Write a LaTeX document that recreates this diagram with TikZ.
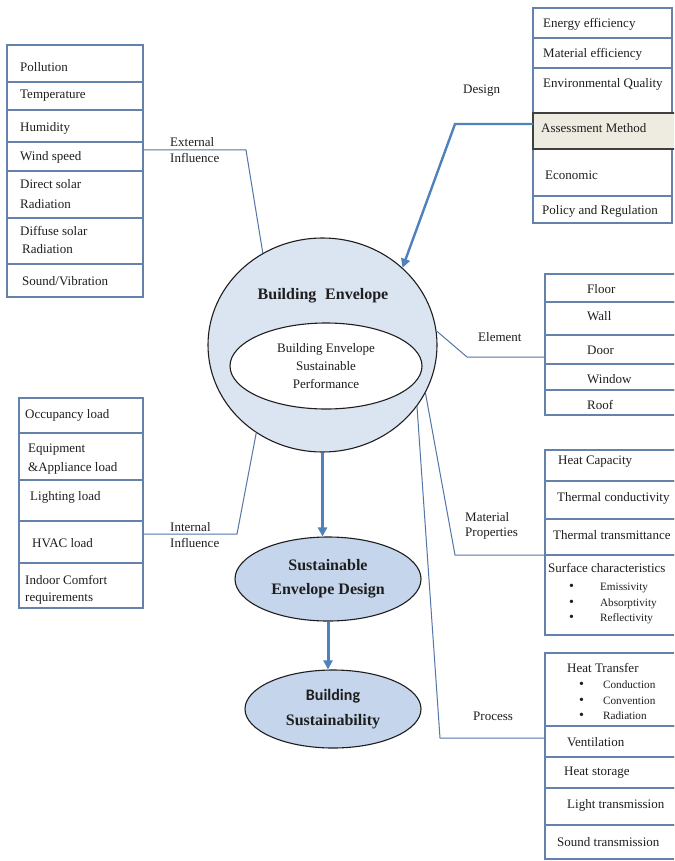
\documentclass[tikz,border=0pt]{standalone}
\usepackage{fontspec}
\setmainfont{Liberation Serif}
\newfontfamily\calibfont{Carlito}
\usetikzlibrary{shapes.geometric,arrows.meta}
\definecolor{arrowblue}{RGB}{79,129,189}
\definecolor{linkblue}{RGB}{84,118,166}
\definecolor{gridblue}{RGB}{100,130,172}
\definecolor{envfill}{RGB}{219,229,241}
\definecolor{ovalfill}{RGB}{196,213,236}
\definecolor{assessfill}{RGB}{238,236,225}
\definecolor{boxdark}{RGB}{64,64,64}
\definecolor{inkdark}{RGB}{30,30,30}
\newcommand\cellrow[6][cell]{\node[#1, minimum width=#5, minimum height=#6] (#2) at (#3,#4) {};}
\newcommand\bigdot{{\fontsize{14}{15}\selectfont\textbullet}}
\begin{document}
\begin{tikzpicture}[x=1pt,y=-1pt,
  cell/.style={draw=gridblue, line width=1.25pt, rectangle, anchor=north west, inner sep=0pt, outer sep=0pt},
  assess/.style={cell, draw=boxdark, line width=1.8pt, fill=assessfill},
  txt/.style={anchor=west, inner sep=0pt, text=inkdark, font=\fontsize{13}{15.5}\selectfont, align=left},
  small/.style={txt, font=\fontsize{11.2}{15.5}\selectfont},
  link/.style={draw=linkblue, line width=1pt},
  flow/.style={draw=arrowblue, line width=3pt, -{Triangle[length=9pt,width=9pt]}},
  oval/.style={ellipse, draw=inkdark, line width=1.1pt, inner sep=0pt, text=inkdark, align=center}]
\fill[white] (0,0) rectangle (674,861);
\useasboundingbox (0,0) rectangle (674,861);
\clip (0,0) rectangle (674,861);

% ---------- upper left table: external influence ----------
\cellrow{pol}{7}{45}{136}{37}
\cellrow{tem}{7}{82}{136}{28}
\cellrow{hum}{7}{110}{136}{32}
\cellrow{win}{7}{142}{136}{29}
\cellrow{dir}{7}{171}{136}{47}
\cellrow{dif}{7}{218}{136}{46}
\cellrow{snd}{7}{264}{136}{33}
\node[txt] (tpol) at (20,67) {Pollution};
\node[txt] (ttem) at (20,96) {Temperature};
\node[txt] (thum) at (20,128) {Humidity};
\node[txt] (twin) at (20,157) {Wind speed};
\node[txt] (tdir) at (20,194) {Direct solar\\[5pt]Radiation};
\node[txt] (tdif) at (20,240) {Diffuse solar\\[2pt]\hspace*{2pt}Radiation};
\node[txt] (tsnd) at (22,281) {Sound/Vibration};

% ---------- lower left table: internal influence ----------
\cellrow{occ}{19}{398}{124}{35}
\cellrow{equ}{19}{433}{124}{47}
\cellrow{lig}{19}{480}{124}{41}
\cellrow{hva}{19}{521}{124}{42}
\cellrow{ind}{19}{563}{124}{45}
\node[txt] (tocc) at (25,415) {Occupancy load};
\node[txt] (tequ) at (28,459) {Equipment\\[4pt]\&Appliance load};
\node[txt] (tlig) at (30,497) {Lighting load};
\node[txt] (thva) at (32,543) {HVAC load};
\node[txt] (tind) at (25,590) {Indoor Comfort\\[1pt]requirements};

% ---------- upper right table: design ----------
\cellrow{ene}{533}{8}{139}{30}
\cellrow{mat}{533}{38}{139}{30}
\cellrow{env}{533}{68}{139}{45}
\cellrow{eco}{533}{149}{139}{47}
\cellrow{pr}{533}{196}{139}{27}
\cellrow[assess]{am}{533}{113}{145}{36}
\node[txt] (tene) at (543,24) {Energy efficiency};
\node[txt] (tmat) at (543,54) {Material efficiency};
\node[txt] (tenv) at (543,84) {Environmental Quality};
\node[txt] (tam) at (541,128) {Assessment Method};
\node[txt] (teco) at (545,175) {Economic};
\node[txt] (tpr) at (542,211) {Policy and Regulation};

% ---------- element table ----------
\cellrow{flo}{545}{274}{131}{28}
\cellrow{wal}{545}{302}{131}{33}
\cellrow{doo}{545}{335}{131}{29}
\cellrow{wdw}{545}{364}{131}{26}
\cellrow{roo}{545}{390}{131}{25}
\node[txt] (tflo) at (587,289) {Floor};
\node[txt] (twal) at (587,316) {Wall};
\node[txt] (tdoo) at (587,350) {Door};
\node[txt] (twdw) at (587,379) {Window};
\node[txt] (troo) at (587,405) {Roof};

% ---------- material properties table ----------
\cellrow{hc}{545}{450}{131}{31}
\cellrow{tc}{545}{481}{131}{38}
\cellrow{tt}{545}{519}{131}{36}
\cellrow{sc}{545}{555}{131}{80}
\node[txt] (thc) at (558,462) {Heat Capacity};
\node[txt] (ttc) at (557,498) {Thermal conductivity};
\node[txt] (ttt) at (553,535) {Thermal transmittance};
\node[txt] (tsc) at (548,568) {Surface characteristics};
\node[small] (tscl) at (569,603) {\begin{tabular}{@{}l@{\hspace{26pt}}l@{}}\bigdot & Emissivity\\ \bigdot & Absorptivity\\ \bigdot & Reflectivity\end{tabular}};

% ---------- process table ----------
\cellrow{ht}{545}{653}{131}{73}
\cellrow{ven}{545}{726}{131}{31}
\cellrow{hst}{545}{757}{131}{31}
\cellrow{lt}{545}{788}{131}{37}
\cellrow{st}{545}{825}{131}{34}
\node[txt] (tht) at (567,668) {Heat Transfer};
\node[small] (thtl) at (579,701) {\begin{tabular}{@{}l@{\hspace{19pt}}l@{}}\bigdot & Conduction\\ \bigdot & Convention\\ \bigdot & Radiation\end{tabular}};
\node[txt] (tven) at (567,742) {Ventilation};
\node[txt] (thst) at (564,773) {Heat storage};
\node[txt] (tlt) at (567,805) {Light transmission};
\node[txt] (tst) at (557,842) {Sound transmission};

% ---------- central ellipses ----------
\node[oval, fill=envfill, minimum width=229, minimum height=214] (be) at (322.5,345) {};
\node[txt, anchor=center, font=\fontsize{16}{19}\selectfont\bfseries] (betitle) at (323,296) {Building\hspace{0.3em} Envelope};
\node[oval, fill=white, minimum width=192, minimum height=86, font=\fontsize{13}{18}\selectfont] (core) at (326,366) {Building Envelope\\Sustainable\\Performance};
\node[oval, fill=ovalfill, minimum width=186, minimum height=84, font=\fontsize{16}{24}\selectfont\bfseries] (sed) at (328,579) {Sustainable\\Envelope Design};
\node[oval, fill=ovalfill, minimum width=176, minimum height=78, font=\fontsize{16}{25}\selectfont\bfseries] (bs) at (333,709) {{\calibfont\bfseries Building}\\Sustainability};

% ---------- labels ----------
\node[txt] (lext) at (170,150) {External\\Influence};
\node[txt] (lint) at (170,535) {Internal\\Influence};
\node[txt] (ldes) at (463,91) {Design};
\node[txt] (lele) at (478,337) {Element};
\node[txt] (lmat) at (465,526) {Material\\Properties};
\node[txt] (lpro) at (473,716) {Process};

% ---------- connectors ----------
\coordinate (extbend) at (246,150);
\coordinate (intbend) at (237,534);
\coordinate (desbend) at (455,124);
\coordinate (elebend) at (467,357);
\coordinate (matbend) at (455,555);
\coordinate (probend) at (440,738);
\draw[link] ([yshift=-8pt]win.north east) -- (extbend) -- (be.123);
\draw[link] ([yshift=-13pt]hva.north east) -- (intbend) -- (be.233);
\draw[link] (be.7) -- (elebend) -- ([yshift=-22pt]doo.north west);
\draw[link] (be.-25.7) -- (matbend) -- (sc.north west);
\draw[link] (be.-33.5) -- (probend) -- ([yshift=-12pt]ven.north west);
\draw[flow, line width=2.4pt] ([yshift=7pt]am.west) -- (desbend) -- (be.44);
\draw[flow] (be.south) -- (be.south |- sed.north);
\draw[flow] (sed.south) -- (sed.south |- bs.north);
\end{tikzpicture}
\end{document}
